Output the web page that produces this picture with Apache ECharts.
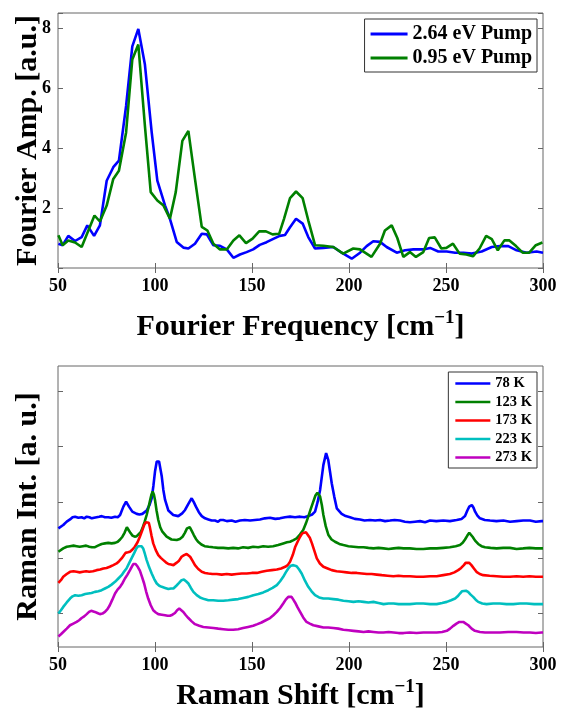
<!DOCTYPE html>
<html>
<head>
<meta charset="utf-8">
<script src="https://cdn.jsdelivr.net/npm/echarts@6/dist/echarts.min.js"></script>
<style>
html,body{margin:0;padding:0;background:#fff;}
#chart{width:561px;height:709px;}
</style>
</head>
<body>
<div id="chart"></div>
<script>
// ---------- Data: top panel (Fourier amplitude) ----------
const xTicks = [50, 100, 150, 200, 250, 300];
const fourierYTicks = [2, 4, 6, 8];
const ramanYTickValues = [0.6, 1.6, 2.6, 3.6, 4.6];

const pump264 = [[50.2,0.81],[52.4,0.76],[55.3,1.07],[58.8,0.90],[62.2,1.03],[65.1,1.42],[68.6,1.07],[71.6,1.42],[75.1,2.91],[78.5,3.36],[81.4,3.58],[85.1,5.40],[88.3,7.39],[91.4,7.97],[94.8,6.78],[98.3,4.52],[101.2,2.91],[105.2,2.08],[107.7,1.64],[111.2,0.87],[114.6,0.68],[117.2,0.65],[120.6,0.81],[124.1,1.14],[126.7,1.12],[130.1,0.76],[133.5,0.74],[137,0.62],[140.4,0.34],[143.8,0.45],[147.2,0.53],[150.6,0.62],[154,0.77],[157.5,0.86],[161,0.97],[164.3,1.07],[167,1.10],[169.6,1.36],[172.7,1.64],[176.1,1.48],[179,1.03],[182.5,0.65],[186.8,0.67],[191.9,0.70],[196.2,0.51],[201.4,0.31],[205.7,0.51],[209.1,0.73],[212.5,0.89],[216,0.87],[219.4,0.70],[224.6,0.51],[228.9,0.59],[233.2,0.62],[238.3,0.62],[241.8,0.67],[246,0.55],[250.4,0.55],[254.7,0.51],[259,0.51],[263.3,0.48],[268.4,0.55],[273.6,0.70],[277.8,0.73],[282.1,0.73],[286.4,0.59],[291.6,0.51],[296.7,0.55],[300,0.51]];

const pump095 = [[50.2,1.09],[52.4,0.76],[55.3,0.92],[58.8,0.85],[62.2,0.70],[68.8,1.75],[71.6,1.55],[75.1,2.08],[78.5,2.97],[81.4,3.24],[85.1,4.52],[88.3,6.95],[91.4,7.45],[94.8,4.74],[97.8,2.53],[101.2,2.25],[104.4,2.08],[107.7,1.64],[110.7,2.53],[114.1,4.24],[117.2,4.57],[120.6,2.97],[124.1,1.37],[127,1.25],[130.1,0.81],[133.5,0.62],[137,0.62],[140.4,0.92],[143.5,1.09],[146.9,0.83],[150.3,0.98],[153.7,1.22],[157.2,1.22],[160.6,1.12],[164,1.14],[166.5,1.64],[169.6,2.33],[172.7,2.55],[176.1,2.33],[179,1.59],[182.5,0.76],[186.8,0.74],[191.9,0.70],[197,0.48],[202.2,0.65],[205.7,0.62],[211.6,0.37],[216,0.81],[218.5,1.25],[222,1.42],[224.9,1.00],[228,0.37],[231.4,0.53],[234.5,0.37],[238.3,0.53],[241.3,1.00],[244.2,1.02],[247.6,0.65],[250.2,0.67],[253.6,0.81],[257,0.48],[260.5,0.45],[263.9,0.39],[267.3,0.65],[270.7,1.07],[273.6,0.96],[276.7,0.59],[280.1,0.92],[282.7,0.92],[286.1,0.73],[289.5,0.51],[292.9,0.51],[296.3,0.76],[299.7,0.85]];

// ---------- Data: bottom panel (Raman spectra, offset) ----------
const raman78 = [[50.2,2.13],[52.7,2.19],[54.5,2.25],[56.2,2.29],[57.5,2.33],[58.8,2.34],[60.5,2.32],[62.2,2.33],[63.5,2.31],[64.8,2.34],[66.2,2.33],[67.4,2.31],[68.6,2.32],[69.9,2.33],[71.2,2.34],[72.5,2.35],[74.2,2.33],[75.9,2.33],[77.5,2.32],[79.4,2.34],[80.8,2.33],[82,2.37],[83.7,2.52],[85.1,2.61],[86.6,2.52],[88.3,2.43],[90.6,2.39],[92,2.38],[93.5,2.39],[95.7,2.45],[97.2,2.55],[98.3,2.67],[99.2,2.90],[100,3.15],[100.9,3.33],[102.1,3.33],[103.5,3.06],[104.3,2.82],[105.2,2.64],[106.9,2.45],[109.4,2.37],[112,2.35],[114,2.40],[115.5,2.46],[117.2,2.57],[118.9,2.67],[120,2.60],[121.1,2.52],[122.6,2.42],[124.1,2.35],[125.8,2.31],[127.5,2.29],[129.2,2.27],[130.9,2.27],[132.5,2.25],[133.6,2.28],[135.2,2.28],[137,2.26],[139.5,2.27],[141.5,2.25],[143.8,2.27],[146.3,2.28],[149,2.27],[151.5,2.28],[154.1,2.29],[156.6,2.31],[159.3,2.32],[162,2.30],[164.4,2.31],[167,2.33],[169.6,2.34],[172.2,2.33],[174.8,2.34],[177,2.33],[179,2.35],[181,2.38],[182.5,2.43],[183.8,2.60],[185.1,2.82],[186.8,3.27],[188.2,3.48],[189.3,3.36],[190.2,3.15],[191.1,2.94],[192.4,2.70],[193.7,2.49],[196.2,2.39],[198.3,2.35],[200.5,2.33],[203,2.30],[205.7,2.29],[208,2.27],[210.8,2.28],[213.5,2.27],[216,2.28],[218.6,2.26],[221.1,2.27],[223.5,2.28],[226.3,2.27],[228.8,2.25],[231.4,2.24],[234,2.25],[236.6,2.26],[239.2,2.24],[241.8,2.27],[245,2.26],[248.6,2.27],[252,2.26],[255.5,2.28],[258,2.30],[259.8,2.35],[261,2.45],[262,2.52],[263.3,2.55],[264.2,2.50],[265,2.43],[266.2,2.36],[267.5,2.31],[270,2.28],[272.7,2.27],[276,2.26],[279.6,2.27],[283,2.25],[286.4,2.26],[289.8,2.27],[293.3,2.27],[296.3,2.25],[299.3,2.26],[300,2.26]];

const raman123 = [[50.2,1.71],[52.7,1.77],[54.5,1.80],[56.2,1.81],[58,1.82],[59.6,1.81],[61.2,1.80],[62.8,1.81],[64.5,1.82],[66.1,1.80],[67.5,1.79],[68.8,1.79],[70.6,1.82],[72.5,1.85],[74.2,1.86],[75.9,1.87],[77.6,1.86],[79.4,1.87],[80.8,1.89],[82,1.93],[83.2,1.98],[84.3,2.05],[85.5,2.15],[86.4,2.10],[87.3,2.05],[88.4,2.00],[89.5,1.98],[90.6,1.99],[91.6,2.01],[92.6,2.06],[93.5,2.13],[94.6,2.24],[95.7,2.37],[96.6,2.50],[97.5,2.64],[98.2,2.74],[98.8,2.79],[99.4,2.74],[100,2.64],[100.8,2.45],[101.7,2.28],[102.7,2.15],[103.8,2.07],[106,1.98],[108.5,1.93],[111.2,1.92],[112.8,1.94],[114.2,1.98],[115.4,2.05],[116.5,2.13],[117.9,2.15],[119,2.08],[120,2.01],[121.1,1.94],[122.2,1.89],[123.9,1.84],[125.6,1.81],[127.7,1.80],[129.9,1.79],[132.5,1.78],[135.2,1.78],[137.8,1.77],[140.3,1.78],[142.8,1.77],[145.4,1.79],[148,1.78],[150.6,1.80],[153.2,1.79],[155.8,1.81],[158.3,1.80],[160.9,1.81],[163.5,1.83],[166.1,1.86],[168,1.88],[169.6,1.89],[171.4,1.92],[173,1.95],[174.7,2.02],[176.4,2.10],[177.8,2.22],[179,2.34],[180.3,2.48],[181.6,2.61],[182.7,2.72],[183.7,2.77],[184.4,2.75],[185.1,2.70],[186,2.55],[186.8,2.37],[188,2.17],[189.4,2.01],[191,1.93],[192.8,1.89],[195,1.85],[197.1,1.83],[199.7,1.81],[202.3,1.80],[204.9,1.79],[207.5,1.79],[210,1.78],[212.6,1.77],[215.2,1.78],[217.8,1.77],[220.4,1.76],[223,1.77],[225.6,1.78],[228.1,1.77],[231.4,1.77],[234.8,1.76],[238.3,1.76],[241.8,1.77],[245.2,1.77],[248.6,1.78],[252,1.79],[255,1.81],[257.2,1.83],[258.6,1.87],[259.8,1.93],[261,2.00],[262,2.05],[263,2.02],[263.7,1.98],[265,1.91],[266.6,1.85],[268.3,1.81],[270.1,1.79],[273,1.78],[276.1,1.77],[279.5,1.78],[283,1.78],[286.4,1.76],[289.8,1.77],[293,1.78],[296.3,1.77],[299.3,1.77],[300,1.77]];

const raman173 = [[50.2,1.15],[51.5,1.20],[52.7,1.26],[54.5,1.31],[56.2,1.35],[58,1.36],[59.6,1.35],[61.2,1.34],[62.8,1.35],[64.5,1.36],[66.1,1.35],[68,1.36],[69.9,1.38],[71.7,1.39],[73.4,1.41],[75,1.42],[76.7,1.44],[78.5,1.47],[80.2,1.50],[81.5,1.54],[82.8,1.59],[83.8,1.64],[84.8,1.69],[86,1.70],[87.1,1.71],[88.4,1.75],[89.6,1.80],[91,1.88],[92.2,1.98],[93.3,2.08],[94.4,2.19],[95.3,2.24],[96.2,2.27],[96.8,2.23],[97.3,2.16],[98.2,2.00],[99.1,1.86],[100.4,1.74],[101.7,1.65],[103,1.60],[104.3,1.56],[105.6,1.52],[106.9,1.49],[108.2,1.48],[109.5,1.47],[111,1.51],[112.4,1.55],[113.7,1.62],[115,1.65],[116.3,1.67],[117.2,1.65],[118.1,1.62],[119.3,1.55],[120.6,1.47],[122.3,1.40],[124.1,1.35],[125.8,1.33],[127.5,1.32],[129.6,1.31],[131.8,1.31],[134.4,1.30],[137,1.31],[139.5,1.30],[142.1,1.31],[144.7,1.32],[147.3,1.32],[149.9,1.33],[152.5,1.33],[155,1.35],[157.6,1.37],[160.2,1.38],[162.8,1.39],[165,1.41],[167.1,1.44],[168.4,1.47],[169.6,1.53],[171,1.65],[172.2,1.79],[173.5,1.89],[174.8,1.98],[175.9,2.04],[176.9,2.07],[177.8,2.06],[178.6,2.04],[179.8,1.96],[180.9,1.86],[182.2,1.72],[183.4,1.59],[185,1.50],[186.8,1.44],[189,1.41],[191.1,1.38],[193.6,1.36],[196.2,1.35],[198.8,1.34],[201.4,1.33],[204,1.33],[206.6,1.32],[209.2,1.31],[211.7,1.31],[214.3,1.30],[216.9,1.29],[219.9,1.28],[222.9,1.27],[225.5,1.28],[228.1,1.27],[231.4,1.27],[234.8,1.26],[238.3,1.26],[241.8,1.27],[245.2,1.27],[248.6,1.29],[252,1.31],[254.3,1.34],[256.3,1.38],[257.8,1.42],[259.2,1.47],[260.1,1.51],[260.9,1.54],[262,1.51],[263.1,1.47],[264.4,1.41],[265.7,1.35],[267.4,1.31],[269.2,1.29],[272.5,1.28],[276.1,1.27],[279.5,1.26],[283,1.26],[286.4,1.27],[289.8,1.26],[293,1.27],[296.3,1.26],[299.3,1.26],[300,1.26]];

const raman223 = [[50.2,0.60],[51.5,0.66],[52.7,0.72],[54.5,0.80],[56.2,0.87],[57.5,0.91],[58.8,0.93],[60.5,0.92],[62.2,0.93],[64,0.95],[65.6,0.96],[67.3,0.97],[69,0.99],[70.8,1.00],[72.5,1.02],[74.2,1.05],[75.9,1.08],[77.6,1.12],[79.4,1.17],[81.1,1.23],[82.8,1.29],[84,1.35],[85.3,1.41],[86.6,1.50],[87.9,1.59],[89.2,1.68],[90.4,1.77],[91.3,1.81],[92.2,1.83],[93.1,1.81],[93.9,1.77],[94.8,1.67],[95.7,1.56],[97,1.43],[98.3,1.32],[99.6,1.22],[100.9,1.14],[102.2,1.10],[103.5,1.08],[105.2,1.06],[106.9,1.04],[108.2,1.05],[109.5,1.05],[111,1.10],[112.4,1.15],[113.7,1.20],[114.9,1.21],[116,1.18],[117.2,1.14],[118.5,1.06],[119.8,0.99],[121.5,0.93],[123.2,0.89],[125.4,0.86],[127.5,0.84],[130,0.84],[132.6,0.83],[135.2,0.83],[137.8,0.84],[140.3,0.85],[142.9,0.86],[145.5,0.88],[148.1,0.90],[150.7,0.93],[153.3,0.95],[155.8,0.98],[158.4,1.02],[160.6,1.06],[162.8,1.11],[164.5,1.18],[166.1,1.26],[167.4,1.34],[168.7,1.41],[170,1.46],[171.3,1.47],[172.2,1.47],[173,1.45],[174.3,1.39],[175.6,1.32],[177.3,1.19],[179,1.08],[180.7,1.00],[182.5,0.93],[184.6,0.89],[186.8,0.87],[189.3,0.87],[191.9,0.86],[194.5,0.85],[197.1,0.83],[199.7,0.82],[202.3,0.81],[204.9,0.82],[207.5,0.81],[210,0.80],[212.6,0.81],[215.2,0.79],[217.8,0.77],[220.4,0.78],[223,0.78],[225.6,0.77],[228.1,0.77],[231.4,0.77],[234.8,0.78],[238.3,0.78],[241.8,0.77],[245.2,0.77],[248,0.79],[250.4,0.81],[252.6,0.84],[254.7,0.87],[256,0.91],[257.2,0.96],[258.2,1.00],[259.2,1.02],[260.3,1.01],[261.4,0.99],[262.7,0.94],[264,0.90],[265.3,0.85],[266.6,0.81],[268.7,0.78],[270.9,0.77],[274.3,0.78],[277.8,0.78],[281.2,0.77],[284.7,0.77],[288.1,0.78],[291.6,0.78],[295.4,0.77],[299.3,0.77],[300,0.77]];

const raman273 = [[50.2,0.19],[51.5,0.23],[52.7,0.27],[54.5,0.33],[56.2,0.39],[57.9,0.42],[59.6,0.45],[60.9,0.48],[62.2,0.52],[63.5,0.55],[64.8,0.59],[66,0.63],[67.1,0.65],[68,0.64],[69,0.63],[70.3,0.61],[71.6,0.59],[72.9,0.60],[74.2,0.63],[75.5,0.68],[76.7,0.75],[78,0.85],[79.4,0.96],[80.7,1.03],[82,1.08],[83.3,1.15],[84.5,1.23],[85.8,1.30],[87.1,1.38],[88,1.44],[88.8,1.49],[90,1.49],[91.1,1.44],[92.2,1.37],[93.3,1.26],[94.4,1.14],[95.4,1.00],[96.5,0.87],[97.8,0.75],[99.1,0.66],[100.4,0.62],[101.7,0.59],[103.5,0.58],[105.2,0.57],[106.5,0.56],[107.7,0.56],[109,0.58],[110.3,0.61],[111.4,0.66],[112.5,0.69],[113.5,0.67],[114.6,0.63],[115.9,0.57],[117.2,0.52],[118.9,0.46],[120.6,0.41],[122.8,0.38],[124.9,0.36],[127.5,0.35],[130.1,0.34],[132.6,0.33],[135.2,0.32],[137.8,0.31],[140.3,0.31],[142.9,0.32],[145.4,0.34],[148,0.36],[150.6,0.38],[152.8,0.41],[154.9,0.44],[157.1,0.48],[159.3,0.52],[161,0.57],[162.8,0.63],[164.5,0.70],[166.1,0.78],[167.4,0.85],[168.7,0.90],[169.6,0.91],[170.4,0.90],[171.3,0.85],[172.2,0.80],[173.5,0.71],[174.8,0.63],[176.4,0.53],[178.1,0.45],[179.8,0.42],[181.6,0.39],[184.2,0.37],[186.8,0.35],[189.3,0.35],[191.9,0.34],[194.5,0.33],[197.1,0.31],[199.7,0.30],[202.3,0.29],[204.9,0.28],[207.5,0.27],[210,0.28],[212.6,0.27],[215.2,0.26],[217.8,0.26],[220.4,0.27],[223,0.26],[225.6,0.25],[228.1,0.25],[231.4,0.26],[234.8,0.25],[238.3,0.26],[241.8,0.26],[245.2,0.26],[248,0.27],[250.4,0.29],[252.1,0.33],[253.8,0.38],[255.4,0.42],[256.9,0.45],[258.9,0.45],[260.2,0.42],[261.5,0.39],[263.2,0.33],[264.9,0.29],[267.5,0.27],[270.1,0.26],[274,0.26],[277.8,0.26],[282,0.27],[286.4,0.27],[290,0.26],[293.3,0.26],[296.3,0.25],[299.3,0.26],[300,0.26]];

const pumpNames = ['2.64 eV Pump', '0.95 eV Pump'];
const tempNames = ['78 K', '123 K', '173 K', '223 K', '273 K'];

// ---------- Styling ----------
const FONT = "'Liberation Serif', 'Times New Roman', 'DejaVu Serif', serif";
const AX = '#666';
const colors = {
  blue: '#0000ff', green: '#008000', red: '#ff0000', cyan: '#00bfbf', magenta: '#bf00bf'
};

function xAxisPair(gridIndex, title, gap) {
  return [
    {
      type: 'value', gridIndex, min: xTicks[0], max: xTicks[xTicks.length - 1], interval: 50,
      axisLine: { show: false },
      axisTick: { show: true, inside: true, length: 5, lineStyle: { color: AX } },
      splitLine: { show: false },
      axisLabel: { show: true, margin: 9, fontFamily: FONT, fontWeight: 'bold', fontSize: 18, color: '#000' },
      name: title,
      nameLocation: 'middle',
      nameGap: gap,
      nameMoveOverlap: false,
      nameTextStyle: {
        rich: {
          t: { fontFamily: FONT, fontWeight: 'bold', fontSize: 30, color: '#000', verticalAlign: 'bottom' },
          s: { fontFamily: FONT, fontWeight: 'bold', fontSize: 19, color: '#000', verticalAlign: 'bottom', padding: [0, 0, 14, 0] }
        }
      }
    },
    {
      type: 'value', gridIndex, position: 'top', min: xTicks[0], max: xTicks[xTicks.length - 1], interval: 50,
      axisLine: { show: false },
      axisTick: { show: true, inside: true, length: 5, lineStyle: { color: AX } },
      splitLine: { show: false },
      axisLabel: { show: false }
    }
  ];
}

const option = {
  animation: false,
  backgroundColor: '#fff',
  grid: [
    { left: 58, right: 18, top: 13, height: 255, show: true, borderColor: AX, borderWidth: 1, backgroundColor: 'transparent', outerBoundsMode: 'none', containLabel: false },
    { left: 58, right: 18, top: 366, height: 281, show: true, borderColor: AX, borderWidth: 1, backgroundColor: 'transparent', outerBoundsMode: 'none', containLabel: false }
  ],
  xAxis: [
    ...xAxisPair(0, '{t|Fourier Frequency [cm}{s|\u22121}{t|]}', 41),
    ...xAxisPair(1, '{t|Raman Shift [cm}{s|\u22121}{t|]}', 31)
  ],
  yAxis: [
    {
      type: 'value', gridIndex: 0, min: 0, max: 8.5, interval: 2,
      axisLine: { show: false },
      axisTick: { show: true, inside: true, length: 5, lineStyle: { color: AX } },
      splitLine: { show: false },
      axisLabel: {
        margin: 7, fontFamily: FONT, fontWeight: 'bold', fontSize: 18, color: '#000',
        formatter: v => (fourierYTicks.indexOf(v) >= 0 ? String(v) : '')
      },
      name: 'Fourier Amp. [a.u.]',
      nameLocation: 'middle',
      nameGap: 15,
      nameMoveOverlap: false,
      nameTextStyle: { fontFamily: FONT, fontWeight: 'bold', fontSize: 30, color: '#000' }
    },
    {
      type: 'value', gridIndex: 0, position: 'right', min: 0, max: 8.5, interval: 2,
      axisLine: { show: false },
      axisTick: { show: true, inside: true, length: 5, lineStyle: { color: AX } },
      splitLine: { show: false },
      axisLabel: { show: false }
    },
    {
      type: 'value', gridIndex: 1, min: 0, max: 5.045,
      axisLine: { show: false },
      axisTick: { show: true, inside: true, length: 5, lineStyle: { color: AX }, customValues: ramanYTickValues },
      splitLine: { show: false },
      axisLabel: { show: false },
      name: 'Raman Int. [a. u.]',
      nameLocation: 'middle',
      nameGap: 15,
      nameMoveOverlap: false,
      nameTextStyle: { fontFamily: FONT, fontWeight: 'bold', fontSize: 30, color: '#000' }
    },
    {
      type: 'value', gridIndex: 1, position: 'right', min: 0, max: 5.045,
      axisLine: { show: false },
      axisTick: { show: true, inside: true, length: 5, lineStyle: { color: AX }, customValues: ramanYTickValues },
      splitLine: { show: false },
      axisLabel: { show: false }
    }
  ],
  legend: [
    {
      data: pumpNames,
      orient: 'vertical',
      right: 24, top: 19,
      icon: 'rect', itemWidth: 37, itemHeight: 3, itemGap: 4,
      padding: [5, 5, 4, 6],
      borderColor: '#333', borderWidth: 1, backgroundColor: '#fff',
      textStyle: { fontFamily: FONT, fontWeight: 'bold', fontSize: 20, color: '#000' }
    },
    {
      data: tempNames,
      orient: 'vertical',
      right: 24, top: 372,
      icon: 'rect', itemWidth: 35, itemHeight: 2.5, itemGap: 3.5,
      padding: [4, 5, 3, 7],
      borderColor: '#333', borderWidth: 1, backgroundColor: '#fff',
      textStyle: { fontFamily: FONT, fontWeight: 'bold', fontSize: 14.5, color: '#000' }
    }
  ],
  series: [
    { name: pumpNames[0], data: pump264, color: colors.blue, xAxisIndex: 0, yAxisIndex: 0 },
    { name: pumpNames[1], data: pump095, color: colors.green, xAxisIndex: 0, yAxisIndex: 0 },
    { name: tempNames[0], data: raman78, color: colors.blue, xAxisIndex: 2, yAxisIndex: 2 },
    { name: tempNames[1], data: raman123, color: colors.green, xAxisIndex: 2, yAxisIndex: 2 },
    { name: tempNames[2], data: raman173, color: colors.red, xAxisIndex: 2, yAxisIndex: 2 },
    { name: tempNames[3], data: raman223, color: colors.cyan, xAxisIndex: 2, yAxisIndex: 2 },
    { name: tempNames[4], data: raman273, color: colors.magenta, xAxisIndex: 2, yAxisIndex: 2 }
  ].map(s => Object.assign({
    type: 'line', showSymbol: false, symbol: 'none', clip: true,
    lineStyle: { width: 2.6, color: s.color },
    itemStyle: { color: s.color }
  }, s))
};

const chart = echarts.init(document.getElementById('chart'), null, { renderer: 'canvas' });
chart.setOption(option);
</script>
</body>
</html>
